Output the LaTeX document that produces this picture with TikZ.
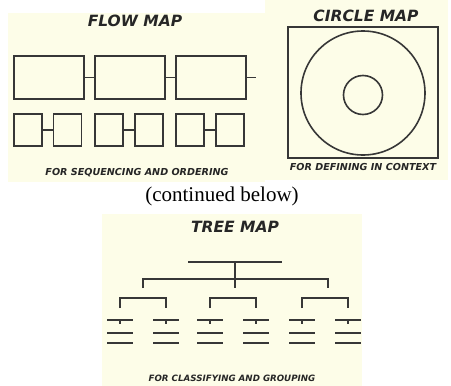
\documentclass[tikz,border=0pt]{standalone}
\usepackage{fontspec}
\setmainfont{Liberation Serif}
\newfontfamily\mapfont{DejaVu Sans}
\usepackage{tikz}
\usetikzlibrary{positioning,chains}
\usepackage{xcolor}
\definecolor{cream}{RGB}{253,253,232}
\definecolor{ink}{RGB}{55,55,55}

\begin{document}
\begin{tikzpicture}[x=1pt,y=-1pt,
    bigbox/.style={rectangle, draw=ink, line width=1.6pt, minimum width=70pt, minimum height=43pt, inner sep=0pt},
    smallbox/.style={rectangle, draw=ink, line width=1.6pt, minimum width=28pt, minimum height=32pt, inner sep=0pt},
    ring/.style={circle, draw=ink, line width=1.6pt, inner sep=0pt},
    title/.style={font=\mapfont\bfseries\itshape\fontsize{15.5}{15.5}\selectfont, text=black!85, inner sep=0pt},
    caption/.style={font=\mapfont\bfseries\itshape\fontsize{9.6}{9.6}\selectfont, text=black!85, inner sep=0pt},
    link/.style={draw=ink, line width=1.6pt},
    start chain=going right, node distance=9.5pt]

    \useasboundingbox (0,0) rectangle (451,386);

    % panels
    \fill[cream] (8,13) rectangle (265,182);
    \fill[cream] (265,0) rectangle (448,180);
    \fill[cream] (102,214) rectangle (362,386);

    % flow map
    \node[title] (flowtitle) at (135,21) {FLOW MAP};
    \node[bigbox, on chain] (S1) at (49,77.5) {};
    \node[bigbox, on chain] (S2) {};
    \node[bigbox, on chain] (S3) {};
    \coordinate[right=9pt of S3.east] (S4);

    \foreach \s/ \d in {S1/S2, S2/S3, S3/S4}{
        \draw[link] (\s.east) -- (\d.west |- \s.east);
    }

    \foreach \x in {S1, S2, S3}{
        \node[smallbox, below=13.5pt of \x.south west, anchor=north west] (\x a) {};
        \node[smallbox, right=10pt of \x a] (\x b) {};
        \draw[link] (\x a) -- (\x b);
    }

    \node[caption] (flowcap) at (137,173) {FOR SEQUENCING AND ORDERING};

    % circle map
    \node[title] (circtitle) at (366,16) {CIRCLE MAP};
    \node[rectangle, draw=ink, line width=1.6pt, minimum width=150pt, minimum height=131pt] (frame) at (363,92.5) {};
    \node[ring, minimum size=124pt] (outer) at (363,93) {};
    \node[ring, minimum size=39pt] (inner) at (363,95) {};
    \node[caption] (circcap) at (363,167.5) {FOR DEFINING IN CONTEXT};

    % continued
    \node[font=\fontsize{21}{21}\selectfont, inner sep=0pt, anchor=base] (more) at (222,201) {(continued below)};

    % tree map
    \node[title] (treetitle) at (235,227) {TREE MAP};
    \draw[link] (188,262) -- (282,262);
    \draw[link] (235,262) -- (235,288);
    \draw[link] (143,288) -- (143,279) -- (328,279) -- (328,288);

    \foreach \c in {143, 233, 325}{
        \draw[link] (\c-23,308) -- (\c-23,298) -- (\c+23,298) -- (\c+23,308);
        \foreach \l in {\c-23, \c+23}{
            \draw[link] (\l-13,320) -- (\l+13,320);
            \draw[link] (\l,320) -- (\l,324);
            \draw[link] (\l-13,333) -- (\l+13,333);
            \draw[link] (\l-13,343) -- (\l+13,343);
        }
    }

    \node[caption, font=\mapfont\bfseries\itshape\fontsize{8.7}{8.7}\selectfont] (treecap) at (232,378) {FOR CLASSIFYING AND GROUPING};

\end{tikzpicture}
\end{document}
